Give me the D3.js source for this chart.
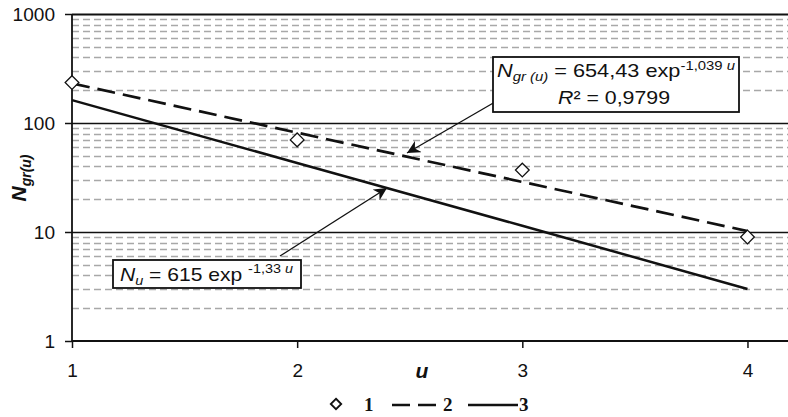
<!DOCTYPE html>
<html>
<head>
<meta charset="utf-8">
<script src="https://cdn.jsdelivr.net/npm/d3@7/dist/d3.min.js"></script>
<style>
  body { margin: 0; background: #fff; }
  svg { font-family: "Liberation Sans", Arial, sans-serif; }
</style>
</head>
<body>
<div id="chart"></div>
<script>
// data
const uValues = [1, 2, 3, 4];
const observed = [235, 70, 37, 9];          // series 1 (diamonds)
const fitGr = [231, 81.5, 28.8, 10.2];      // series 2, dashed
const fitU = [162, 43, 11.4, 3.0];          // series 3, solid
const xTicks = [1, 2, 3, 4];
const yTicks = [1, 10, 100, 1000];
const legendLabels = ['1', '2', '3'];

const W = 788, H = 417;
const margin = { top: 14, left: 72, right: 0, bottom: 76 };
const width = W - margin.left - margin.right;
const height = H - margin.top - margin.bottom;

const svg = d3.select('#chart').append('svg')
  .attr('width', W)
  .attr('height', H);

const g = svg.append('g')
  .attr('transform', `translate(${margin.left}, ${margin.top})`);

const x = d3.scaleLinear().domain([1, 4.18]).range([0, width]);
const y = d3.scaleLog().domain([1, 1000]).range([height, 0]);

// minor grid (2..9 in each decade)
const minor = [];
for (let d = 1; d < 1000; d *= 10) {
  for (let k = 2; k <= 9; k++) minor.push(d * k);
}
g.append('g').selectAll('line')
  .data(minor)
  .enter().append('line')
  .attr('x1', 0).attr('x2', width)
  .attr('y1', d => Math.round(y(d)) + 0.5).attr('y2', d => Math.round(y(d)) + 0.5)
  .attr('stroke', '#a8a8a8')
  .attr('stroke-width', 1.6)
  .attr('stroke-dasharray', '7,4');

// major grid
g.append('g').selectAll('line')
  .data([10, 100, 1000])
  .enter().append('line')
  .attr('x1', 0).attr('x2', width)
  .attr('y1', d => Math.round(y(d)) + 0.5).attr('y2', d => Math.round(y(d)) + 0.5)
  .attr('stroke', '#111')
  .attr('stroke-width', d => d === 1000 ? 1.8 : 1.3);

// axes
const yAxis = g.append('g')
  .call(d3.axisLeft(y).tickValues(yTicks).tickFormat(d3.format('d')).tickSize(7).tickPadding(10));
const xAxis = g.append('g')
  .attr('transform', `translate(0, ${height})`)
  .call(d3.axisBottom(x).tickValues(xTicks).tickFormat(d3.format('d')).tickSize(7).tickPadding(16));

[yAxis, xAxis].forEach(a => {
  a.select('.domain').attr('stroke', '#111').attr('stroke-width', 1.8);
  a.selectAll('.tick line').attr('stroke', '#111').attr('stroke-width', 1.5);
  a.selectAll('text').attr('font-size', 19).attr('fill', '#111')
    .attr('font-family', '"Liberation Sans", Arial, sans-serif');
});
yAxis.selectAll('text').attr('textLength', d => String(d).length * 10.6).attr('lengthAdjust', 'spacingAndGlyphs');
xAxis.select('.domain').attr('d', `M0,0H${width}`);
yAxis.select('.domain').attr('d', `M0,0V${height}`);

const line = d3.line()
  .x((d, i) => x(uValues[i]))
  .y(d => y(d));

g.append('path')
  .datum(fitGr)
  .attr('d', line)
  .attr('fill', 'none')
  .attr('stroke', '#111')
  .attr('stroke-width', 2.7)
  .attr('stroke-dasharray', '18,8');

g.append('path')
  .datum(fitU)
  .attr('d', line)
  .attr('fill', 'none')
  .attr('stroke', '#111')
  .attr('stroke-width', 2.5);

const diamond = d3.symbol().type(d3.symbolDiamond2).size(120);
g.append('g').selectAll('path')
  .data(observed)
  .enter().append('path')
  .attr('d', diamond)
  .attr('transform', (d, i) => `translate(${x(uValues[i])}, ${y(d)})`)
  .attr('fill', '#fff')
  .attr('stroke', '#111')
  .attr('stroke-width', 1.3);

// arrows
svg.append('defs').append('marker')
  .attr('id', 'arr')
  .attr('viewBox', '0 0 10 10')
  .attr('refX', 10).attr('refY', 5)
  .attr('markerWidth', 13).attr('markerHeight', 13)
  .attr('markerUnits', 'userSpaceOnUse')
  .attr('orient', 'auto')
  .append('path')
  .attr('d', 'M0,0 L10,5 L0,10 L3,5 Z')
  .attr('fill', '#111');

svg.append('line')
  .attr('x1', 495).attr('y1', 102).attr('x2', 407).attr('y2', 153)
  .attr('stroke', '#111').attr('stroke-width', 1.3)
  .attr('marker-end', 'url(#arr)');
svg.append('line')
  .attr('x1', 280).attr('y1', 256).attr('x2', 387).attr('y2', 188)
  .attr('stroke', '#111').attr('stroke-width', 1.3)
  .attr('marker-end', 'url(#arr)');

// annotation box 1
svg.append('rect')
  .attr('x', 493).attr('y', 57).attr('width', 246).attr('height', 55)
  .attr('fill', '#fff').attr('stroke', '#111').attr('stroke-width', 1.8);
const t1 = svg.append('text').attr('x', 497).attr('y', 77).attr('font-size', 19).attr('fill', '#111')
  .attr('textLength', 238).attr('lengthAdjust', 'spacingAndGlyphs');
t1.append('tspan').attr('font-style', 'italic').text('N');
t1.append('tspan').attr('font-style', 'italic').attr('font-size', 13).attr('dy', 4).text('gr (u)');
t1.append('tspan').attr('dy', -4).text(' = 654,43 exp');
t1.append('tspan').attr('font-size', 13).attr('dy', -7).text('-1,039 ');
t1.append('tspan').attr('font-size', 13).attr('font-style', 'italic').text('u');
const t2 = svg.append('text').attr('x', 558).attr('y', 104).attr('font-size', 19).attr('fill', '#111')
  .attr('textLength', 112).attr('lengthAdjust', 'spacingAndGlyphs');
t2.append('tspan').attr('font-style', 'italic').text('R');
t2.append('tspan').text('² = 0,9799');

// annotation box 2
svg.append('rect')
  .attr('x', 113).attr('y', 260).attr('width', 188).attr('height', 28)
  .attr('fill', '#fff').attr('stroke', '#111').attr('stroke-width', 1.8);
const t3 = svg.append('text').attr('x', 120).attr('y', 281).attr('font-size', 19).attr('fill', '#111')
  .attr('textLength', 173).attr('lengthAdjust', 'spacingAndGlyphs');
t3.append('tspan').attr('font-style', 'italic').text('N');
t3.append('tspan').attr('font-style', 'italic').attr('font-size', 13).attr('dy', 4).text('u');
t3.append('tspan').attr('dy', -4).text(' = 615 exp ');
t3.append('tspan').attr('font-size', 13).attr('dy', -8).text('-1,33 ');
t3.append('tspan').attr('font-size', 13).attr('font-style', 'italic').text('u');

// axis titles
svg.append('text')
  .attr('x', 422).attr('y', 378)
  .attr('text-anchor', 'middle')
  .attr('font-size', 21).attr('font-weight', 'bold').attr('font-style', 'italic')
  .attr('fill', '#111')
  .text('u');

const yl = svg.append('text')
  .attr('transform', 'translate(26, 178) rotate(-90)')
  .attr('text-anchor', 'middle')
  .attr('font-size', 21).attr('font-weight', 'bold').attr('font-style', 'italic')
  .attr('fill', '#111');
yl.append('tspan').text('N');
yl.append('tspan').attr('font-size', 14).attr('dy', 5).text('gr(u)');

// legend
const lg = svg.append('g').attr('font-family', '"Liberation Serif", "Times New Roman", serif')
  .attr('font-weight', 'bold').attr('font-size', 19).attr('fill', '#111');
lg.append('path')
  .attr('d', d3.symbol().type(d3.symbolDiamond2).size(70))
  .attr('transform', 'translate(336, 404)')
  .attr('fill', '#fff').attr('stroke', '#111').attr('stroke-width', 1.8);
lg.append('text').attr('x', 364).attr('y', 411).text(legendLabels[0]);
lg.append('line').attr('x1', 392).attr('x2', 440).attr('y1', 405).attr('y2', 405)
  .attr('stroke', '#111').attr('stroke-width', 2.7).attr('stroke-dasharray', '18,8');
lg.append('text').attr('x', 443).attr('y', 411).text(legendLabels[1]);
lg.append('line').attr('x1', 468).attr('x2', 518).attr('y1', 405).attr('y2', 405)
  .attr('stroke', '#111').attr('stroke-width', 2.7);
lg.append('text').attr('x', 519).attr('y', 411).text(legendLabels[2]);
</script>
</body>
</html>
